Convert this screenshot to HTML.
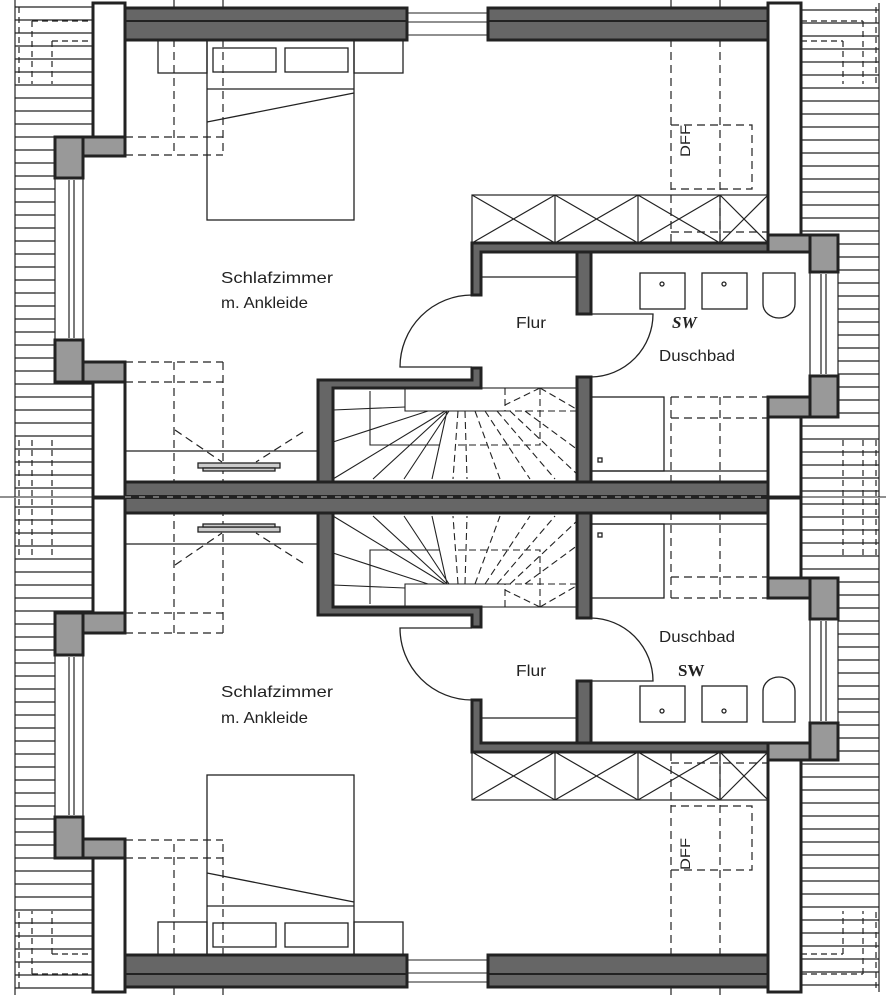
<!DOCTYPE html>
<html><head><meta charset="utf-8"><style>
html,body{margin:0;padding:0;background:#fff;width:886px;height:1000px;overflow:hidden}
svg{display:block}
text{font-family:"Liberation Sans",sans-serif;fill:#222}
</style></head><body>
<svg width="886" height="1000" viewBox="0 0 886 1000" xmlns="http://www.w3.org/2000/svg">
<defs>
<g id="half" stroke="#222" fill="none">
  <!-- left roof hatching -->
  <g stroke-width="1.2">
    <line x1="15" y1="0" x2="15" y2="497"/>
    <line x1="15" y1="7" x2="92" y2="7"/>
    <path d="M15 20H92M15 33H92M15 46H92M15 59H92M15 72H92M15 85H92M15 98H92M15 111H92M15 124H92M15 137H55M15 150H55M15 163H55M15 176H55M15 189H55M15 202H55M15 215H55M15 228H55M15 241H55M15 254H55M15 267H55M15 280H55M15 293H55M15 306H55M15 319H55M15 332H55M15 345H55M15 358H55M15 371H55M15 384H92M15 397H92M15 410H92M15 423H92M15 436H92M15 449H92M15 462H92M15 475H92M15 488H92"/>
  </g>
  <g stroke-width="1.2" stroke-dasharray="6,4">
    <path d="M19 7V84M32 21V84M52 41V84M32 21H92M52 41H92M19 440V497M32 440V497M52 440V497"/>
  </g>
  <!-- right roof hatching -->
  <g stroke-width="1.2">
    <line x1="879" y1="3" x2="879" y2="497"/>
    <path d="M801 10H879M801 23H879M801 36H879M801 49H879M801 62H879M801 75H879M801 88H879M801 101H879M801 114H879M801 127H879M801 140H879M801 153H879M801 166H879M801 179H879M801 192H879M801 205H879M801 218H879M801 231H879M838 244H879M838 257H879M838 270H879M838 283H879M838 296H879M838 309H879M838 322H879M838 335H879M838 348H879M838 361H879M838 374H879M838 387H879M838 400H879M838 413H879M801 426H879M801 439H879M801 452H879M801 465H879M801 478H879M801 491H879"/>
  </g>
  <g stroke-width="1.2" stroke-dasharray="6,4">
    <path d="M876 7V84M863 21V84M843 41V84M801 21H863M801 41H843M876 440V497M863 440V497M843 440V497"/>
  </g>
  <!-- dashed guide lines -->
  <g stroke-width="1.2" stroke-dasharray="8,5">
    <path d="M174 0V155M223 0V155M125 137H223M125 155H223M174 362V497M223 362V497M125 362H223M125 382H223"/>
    <path d="M671 0V250M720 0V250M671 125H752V189H671M671 232H768"/>
    <path d="M671 397V497M720 397V497M671 397H768M671 418H768"/>
    <path d="M175 430L222 462M303 432L256 462"/>
  </g>
  <!-- top exterior wall -->
  <rect x="125" y="8" width="282" height="32" fill="#666" stroke-width="3"/>
  <line x1="125" y1="21" x2="407" y2="21" stroke-width="2"/>
  <rect x="488" y="8" width="280" height="32" fill="#666" stroke-width="3"/>
  <line x1="488" y1="21" x2="768" y2="21" stroke-width="2"/>
  <path d="M407 13H488M407 22H488M407 35H488" stroke-width="1"/>
  <!-- left exterior wall -->
  <rect x="93" y="3" width="32" height="134" fill="#fff" stroke-width="3"/>
  <rect x="55" y="137" width="28" height="41" fill="#999" stroke-width="3"/>
  <rect x="83" y="137" width="42" height="19" fill="#999" stroke-width="3"/>
  <path d="M55 178V340M83 178V340M69 180V338M74 180V338" stroke-width="1.2"/>
  <rect x="55" y="340" width="28" height="42" fill="#999" stroke-width="3"/>
  <rect x="83" y="362" width="42" height="20" fill="#999" stroke-width="3"/>
  <rect x="93" y="382" width="32" height="115" fill="#fff" stroke-width="3"/>
  <!-- right exterior wall -->
  <rect x="768" y="3" width="33" height="232" fill="#fff" stroke-width="3"/>
  <rect x="768" y="235" width="42" height="17" fill="#999" stroke-width="3"/>
  <rect x="810" y="235" width="28" height="37" fill="#999" stroke-width="3"/>
  <path d="M810 272V376M838 272V376M821 274V374M826 274V374" stroke-width="1.2"/>
  <rect x="810" y="376" width="28" height="41" fill="#999" stroke-width="3"/>
  <rect x="768" y="397" width="42" height="20" fill="#999" stroke-width="3"/>
  <rect x="768" y="417" width="33" height="80" fill="#fff" stroke-width="3"/>
  <!-- bed & nightstands -->
  <g stroke-width="1.3">
    <rect x="158" y="40" width="49" height="33"/>
    <rect x="354" y="40" width="49" height="33"/>
    <rect x="207" y="40" width="147" height="180"/>
    <rect x="213" y="48" width="63" height="24"/>
    <rect x="285" y="48" width="63" height="24"/>
    <line x1="207" y1="89" x2="354" y2="89"/>
    <line x1="207" y1="122" x2="354" y2="93"/>
    <line x1="125" y1="451" x2="318" y2="451"/>
    <rect x="198" y="463" width="82" height="5" fill="#ccc"/>
    <rect x="203" y="468" width="72" height="3" fill="#ccc"/>
  </g>
  <!-- cabinets with X -->
  <g stroke-width="1.2">
    <rect x="472" y="195" width="296" height="48"/>
    <path d="M472 195L555 243M555 195L472 243M555 195V243M555 195L638 243M638 195L555 243M638 195V243M638 195L720 243M720 195L638 243M720 195V243M720 195L768 243M768 195L720 243"/>
  </g>
  <!-- corridor/bath walls -->
  <path d="M472 243H768V252H481V295H472Z" fill="#666" stroke-width="3"/>
  <rect x="577" y="252" width="14" height="62" fill="#666" stroke-width="3"/>
  <rect x="577" y="377" width="14" height="105" fill="#666" stroke-width="3"/>
  <path d="M318 380H472V368H481V388H333V482H318Z" fill="#666" stroke-width="3"/>
  <line x1="481" y1="277" x2="577" y2="277" stroke-width="1.2"/>
  <!-- doors -->
  <path d="M472 295A72 72 0 0 0 400 367H472" stroke-width="1.3"/>
  <path d="M591 314H653A63 63 0 0 1 591 377" stroke-width="1.3"/>
  <!-- bath fixtures -->
  <g stroke-width="1.3">
    <rect x="640" y="273" width="45" height="36"/>
    <rect x="702" y="273" width="45" height="36"/>
    <circle cx="662" cy="284" r="2"/><circle cx="724" cy="284" r="2"/>
    <path d="M763 273H795V304A16 14 0 0 1 763 304Z"/>
    <rect x="591" y="397" width="73" height="74"/>
    <rect x="598" y="458" width="4" height="4"/>
    <line x1="591" y1="471" x2="768" y2="471"/>
  </g>
  <!-- stairs -->
  <g stroke-width="1.1">
    <rect x="333" y="388" width="245" height="94"/>
    <path d="M405 388V411H505M370 391V445H440"/>
    <path d="M333 410L405 407M333 442L428 411M333 479L445 411M373 479L447 411M404 479L449 411M432 479L447 411"/>
  </g>
  <g stroke-width="1.1" stroke-dasharray="7,4">
    <path d="M505 388V411H578M540 388V445H458"/>
    <path d="M458 411L453 479M465 411L467 479M475 411L500 479M485 411L530 479M497 411L555 479M510 411L578 475M525 411L578 450M540 388L505 405M540 388L578 410"/>
  </g>
</g>
</defs>

<use href="#half"/>
<use href="#half" transform="translate(0,995) scale(1,-1)"/>

<!-- party wall -->
<line x1="0" y1="497" x2="886" y2="497" stroke="#222" stroke-width="1"/>
<rect x="125" y="482" width="643" height="31" fill="#666" stroke="#222" stroke-width="3"/>
<line x1="125" y1="497" x2="768" y2="497" stroke="#222" stroke-width="4"/>
<line x1="125" y1="497" x2="768" y2="497" stroke="#888" stroke-width="1.5" stroke-dasharray="6,8"/>

<!-- labels top -->
<text x="221" y="283" font-size="16" textLength="112" lengthAdjust="spacingAndGlyphs">Schlafzimmer</text>
<text x="221" y="308" font-size="16" textLength="87" lengthAdjust="spacingAndGlyphs">m. Ankleide</text>
<text x="516" y="328" font-size="16" textLength="30" lengthAdjust="spacingAndGlyphs">Flur</text>
<text x="672" y="328" font-size="17" font-weight="bold" font-style="italic" font-family="Liberation Serif" style="font-family:'Liberation Serif',serif">SW</text>
<text x="659" y="361" font-size="16" textLength="76" lengthAdjust="spacingAndGlyphs">Duschbad</text>
<text transform="translate(690,157) rotate(-90)" font-size="14" textLength="32" lengthAdjust="spacingAndGlyphs">DFF</text>

<!-- labels bottom -->
<text x="221" y="697" font-size="16" textLength="112" lengthAdjust="spacingAndGlyphs">Schlafzimmer</text>
<text x="221" y="723" font-size="16" textLength="87" lengthAdjust="spacingAndGlyphs">m. Ankleide</text>
<text x="516" y="676" font-size="16" textLength="30" lengthAdjust="spacingAndGlyphs">Flur</text>
<text x="678" y="676" font-size="17" font-weight="bold" style="font-family:'Liberation Serif',serif">SW</text>
<text x="659" y="642" font-size="16" textLength="76" lengthAdjust="spacingAndGlyphs">Duschbad</text>
<text transform="translate(690,870) rotate(-90)" font-size="14" textLength="32" lengthAdjust="spacingAndGlyphs">DFF</text>
</svg>
</body></html>
